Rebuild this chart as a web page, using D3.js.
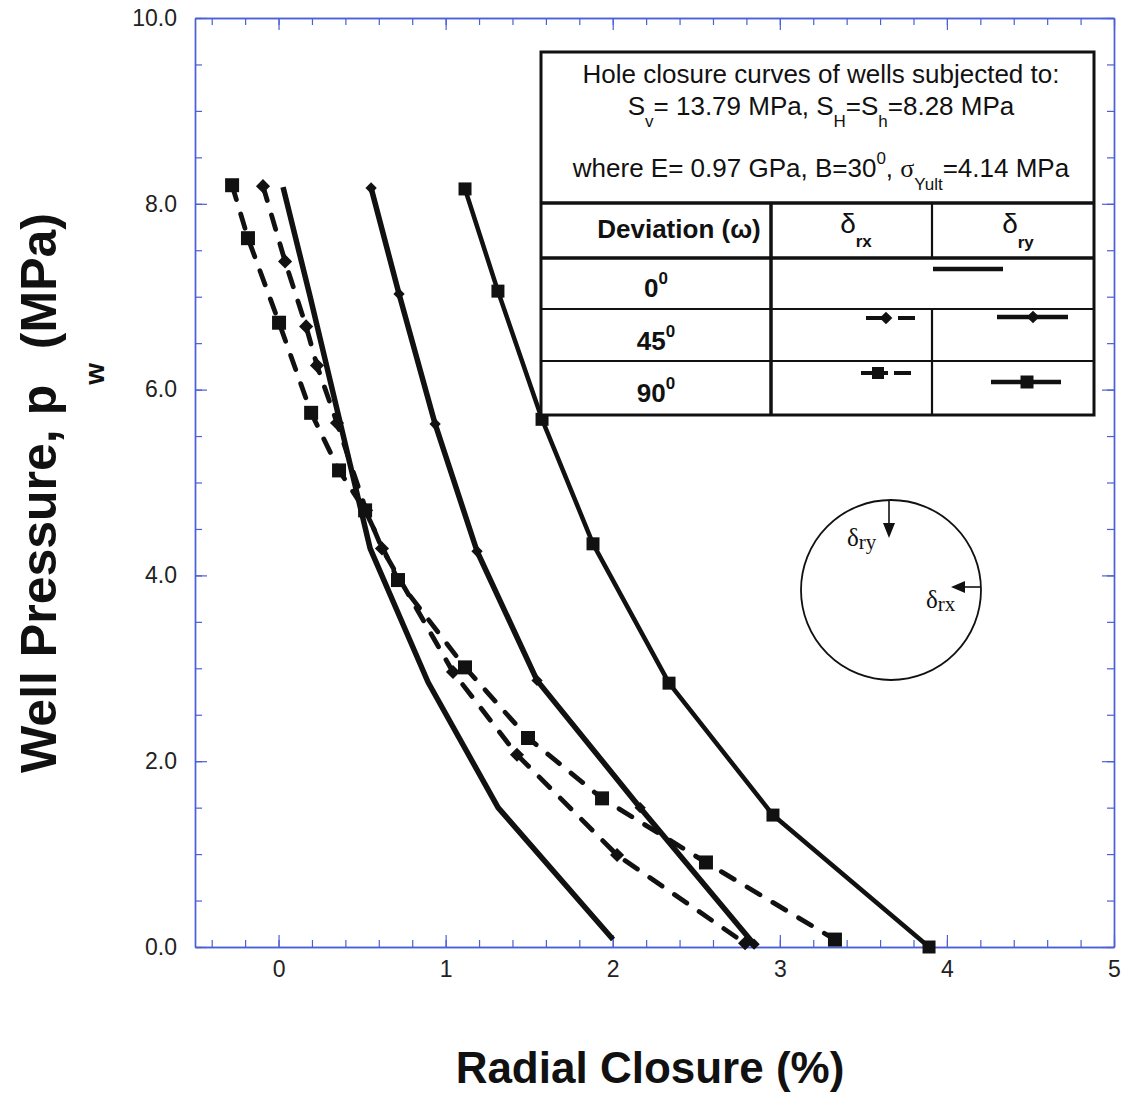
<!DOCTYPE html>
<html><head><meta charset="utf-8">
<script src="https://cdnjs.cloudflare.com/ajax/libs/d3/7.8.5/d3.min.js"></script>
<style>body{margin:0;background:#fff;} svg{display:block;}</style>
</head><body>
<svg id="chart" width="1125" height="1095"></svg>
<script>
// ---------- data ----------
const xTicks = [0, 1, 2, 3, 4, 5];
const yTicks = [0, 2, 4, 6, 8, 10];
const xLabel = "Radial Closure (%)";
const deviations = ["0", "45", "90"];

// 0 deg, delta_ry (solid, no markers)
const x0ry  = [0.027, 0.189, 0.368, 0.548, 0.895, 1.314, 2.002];
const p0ry  = [8.18, 7.00, 5.65, 4.29, 2.85, 1.50, 0.08];
// 45 deg, delta_rx (dashed, diamonds)
const x45rx = [-0.093, 0.039, 0.165, 0.230, 0.350, 0.524, 0.619, 1.044, 1.427, 2.026, 2.792];
const p45rx = [8.19, 7.38, 6.68, 6.26, 5.64, 4.70, 4.29, 2.96, 2.07, 0.99, 0.04];
// 45 deg, delta_ry (solid, diamonds)
const x45ry = [0.554, 0.721, 0.937, 1.188, 1.547, 2.164, 2.846];
const p45ry = [8.17, 7.03, 5.63, 4.26, 2.87, 1.50, 0.03];
// 90 deg, delta_rx (dashed, squares)
const x90rx = [-0.278, -0.183, 0.003, 0.195, 0.362, 0.518, 0.715, 1.116, 1.493, 1.936, 2.558, 3.330];
const p90rx = [8.20, 7.63, 6.72, 5.75, 5.13, 4.70, 3.95, 3.01, 2.25, 1.60, 0.91, 0.08];
// 90 deg, delta_ry (solid, squares)
const x90ry = [1.116, 1.313, 1.577, 1.882, 2.337, 2.959, 3.893];
const p90ry = [8.16, 7.06, 5.68, 4.34, 2.84, 1.42, 0.00];

// ---------- setup ----------
const svg = d3.select("#chart");
const FONT = "'Liberation Sans', Arial, Helvetica, sans-serif";
const BLUE = "#4b5fd6";
const x = d3.scaleLinear().domain([-0.5, 5]).range([195, 1114]);
const y = d3.scaleLinear().domain([0, 10]).range([947, 18]);

// ---------- axes ----------
const xMinor = d3.range(-0.4, 5.001, 0.2).map(v => +v.toFixed(1));
const yMinor = d3.range(0, 10.001, 0.5);

function styleAxis(g) {
  g.selectAll(".domain").attr("stroke", BLUE).attr("stroke-width", 1.4);
  g.selectAll(".tick line").attr("stroke", BLUE).attr("stroke-width", 1.2);
  g.selectAll(".tick text").attr("fill", "#222").attr("font-family", FONT).attr("font-size", 23);
}
const gB = svg.append("g").attr("transform", `translate(0,${y(0)})`);
gB.call(d3.axisBottom(x).tickValues(xMinor).tickSizeInner(-7).tickSizeOuter(0).tickFormat(""));
gB.append("g").call(d3.axisBottom(x).tickValues(xTicks).tickSizeInner(-12).tickSizeOuter(0)
  .tickPadding(14).tickFormat(d3.format("d")));
styleAxis(gB);

const gT = svg.append("g").attr("transform", `translate(0,${y(10)})`);
gT.call(d3.axisTop(x).tickValues(xMinor).tickSizeInner(-7).tickSizeOuter(0).tickFormat(""));
gT.append("g").call(d3.axisTop(x).tickValues(xTicks).tickSizeInner(-12).tickSizeOuter(0).tickFormat(""));
styleAxis(gT);

const gL = svg.append("g").attr("transform", `translate(${x(-0.5)},0)`);
gL.call(d3.axisLeft(y).tickValues(yMinor).tickSizeInner(-7).tickSizeOuter(0).tickFormat(""));
gL.append("g").call(d3.axisLeft(y).tickValues(yTicks).tickSizeInner(-12).tickSizeOuter(0)
  .tickPadding(18).tickFormat(d3.format(".1f")));
styleAxis(gL);

const gR = svg.append("g").attr("transform", `translate(${x(5)},0)`);
gR.call(d3.axisRight(y).tickValues(yMinor).tickSizeInner(-7).tickSizeOuter(0).tickFormat(""));
gR.append("g").call(d3.axisRight(y).tickValues(yTicks).tickSizeInner(-12).tickSizeOuter(0).tickFormat(""));
styleAxis(gR);

// ---------- axis titles ----------
svg.append("text").attr("x", 650).attr("y", 1083).attr("text-anchor", "middle")
  .attr("font-family", FONT).attr("font-weight", "bold").attr("font-size", 44).attr("fill", "#111")
  .text(xLabel);

const yt = svg.append("text").attr("transform", "translate(56,493) rotate(-90)")
  .attr("text-anchor", "middle").attr("font-family", FONT).attr("font-weight", "bold")
  .attr("font-size", 50).attr("fill", "#111");
yt.append("tspan").text("Well Pressure, p");
yt.append("tspan").attr("font-size", 28).attr("dy", 48).text("w");
yt.append("tspan").attr("dy", -48).text(" (MPa)");

// ---------- curves ----------
const line = d3.line().x(d => x(d[0])).y(d => y(d[1]));
const zip = (a, b) => a.map((v, i) => [v, b[i]]);
const plot = svg.append("g");

function drawSeries(xs, ps, opts) {
  const pts = zip(xs, ps);
  plot.append("path").attr("d", line(pts)).attr("fill", "none").attr("stroke", "#111")
    .attr("stroke-width", opts.w).attr("stroke-linejoin", "round")
    .attr("stroke-linecap", opts.dash ? "round" : "butt")
    .attr("stroke-dasharray", opts.dash || null);
  if (opts.marker) {
    const sym = d3.symbol().type(d3.symbolSquare).size(opts.size * opts.size);
    plot.selectAll(null).data(pts).enter().append("path")
      .attr("d", sym)
      .attr("transform", d => `translate(${x(d[0])},${y(d[1])})` + (opts.marker === "diamond" ? " rotate(45)" : ""))
      .attr("fill", "#111");
  }
}
drawSeries(x0ry, p0ry, { w: 5.5 });
drawSeries(x45ry, p45ry, { w: 5.5, marker: "diamond", size: 8 });
drawSeries(x90ry, p90ry, { w: 4.5, marker: "square", size: 13 });
drawSeries(x45rx, p45rx, { w: 4.8, dash: "15,15", marker: "diamond", size: 10 });
drawSeries(x90rx, p90rx, { w: 4.8, dash: "15,15", marker: "square", size: 14 });

// ---------- legend table ----------
const lg = svg.append("g");
const L = 541, R = 1094, T = 52, B = 415, C1 = 771, C2 = 932;
const hY = 203, r0 = 258, r1 = 309, r2 = 361;
lg.append("rect").attr("x", L).attr("y", T).attr("width", R - L).attr("height", B - T)
  .attr("fill", "#fff").attr("stroke", "#111").attr("stroke-width", 3);
function hl(yy, x1, x2, w) { lg.append("line").attr("x1", x1).attr("x2", x2).attr("y1", yy).attr("y2", yy).attr("stroke", "#111").attr("stroke-width", w); }
function vl(xx, y1, y2, w) { lg.append("line").attr("x1", xx).attr("x2", xx).attr("y1", y1).attr("y2", y2).attr("stroke", "#111").attr("stroke-width", w); }
hl(hY, L, R, 3.5); hl(r0, L, R, 3.5); hl(r1, L, R, 2.2); hl(r2, L, R, 2.2);
vl(C1, hY, B, 3.5); vl(C2, hY, r0, 2.2); vl(C2, r1, B, 2.2);

function rich(parent, xx, yy, parts, base, weight, anchor) {
  const t = parent.append("text").attr("x", xx).attr("y", yy).attr("text-anchor", anchor || "middle")
    .attr("font-family", FONT).attr("font-size", base).attr("font-weight", weight || "normal").attr("fill", "#111");
  let shift = 0;
  parts.forEach(p => {
    const [txt, kind, fs, off, fam, fw] = p;
    const target = kind === "sub" ? off : kind === "sup" ? -off : 0;
    const s = t.append("tspan").attr("dy", target - shift).text(txt);
    shift = target;
    if (fs) s.attr("font-size", fs);
    if (fam) s.attr("font-family", fam);
    if (fw) s.attr("font-weight", fw);
  });
  return t;
}
rich(lg, 821, 83, [["Hole closure curves of wells subjected to:"]], 26);
rich(lg, 821, 115, [["S"], ["v", "sub", 17, 12], ["= 13.79 MPa, S"], ["H", "sub", 17, 12], ["=S"], ["h", "sub", 17, 12], ["=8.28 MPa"]], 26);
rich(lg, 821, 177, [["where E= 0.97 GPa, B=30"], ["0", "sup", 17, 13], [", "], ["σ", null, 26, 0, "'Liberation Serif', serif"], ["Yult", "sub", 17, 13], ["=4.14 MPa"]], 26);
rich(lg, 679, 238, [["Deviation (ω)"]], 26, "bold");
rich(lg, 856, 233, [["δ", null, 28, 0, null, "normal"], ["rx", "sub", 17, 14, null, "bold"]], 28);
rich(lg, 1018, 233, [["δ", null, 28, 0, null, "normal"], ["ry", "sub", 17, 15, null, "bold"]], 28);
const rowBase = [297, 350, 402];
deviations.forEach((d, i) => rich(lg, 656, rowBase[i], [[d], ["0", "sup", 17, 13]], 26, "bold"));

function seg(x1, x2, yy, w) { lg.append("line").attr("x1", x1).attr("x2", x2).attr("y1", yy).attr("y2", yy).attr("stroke", "#111").attr("stroke-width", w); }
function mark(xx, yy, kind, s) {
  lg.append("path").attr("d", d3.symbol().type(d3.symbolSquare).size(s * s))
    .attr("transform", `translate(${xx},${yy})` + (kind === "diamond" ? " rotate(45)" : "")).attr("fill", "#111");
}
seg(933, 1003, 269, 4.5);
seg(866, 890, 318, 4); seg(898, 915, 318, 4); mark(886, 318, "diamond", 9);
seg(997, 1068, 317, 4.5); mark(1033, 317, "diamond", 9);
seg(861, 888, 373, 4); seg(894, 911, 373, 4); mark(878, 373, "square", 12);
seg(991, 1061, 382, 4.5); mark(1027, 382, "square", 13);

// ---------- hole diagram ----------
const dg = svg.append("g");
const SERIF = "'Liberation Serif', 'Times New Roman', serif";
dg.append("circle").attr("cx", 891).attr("cy", 590).attr("r", 90).attr("fill", "none")
  .attr("stroke", "#111").attr("stroke-width", 1.8);
dg.append("line").attr("x1", 889).attr("x2", 889).attr("y1", 500).attr("y2", 526).attr("stroke", "#111").attr("stroke-width", 1.6);
dg.append("path").attr("d", "M883,523 L895,523 L889,538 Z").attr("fill", "#111");
dg.append("line").attr("x1", 981).attr("x2", 962).attr("y1", 587).attr("y2", 587).attr("stroke", "#111").attr("stroke-width", 1.6);
dg.append("path").attr("d", "M965,581 L965,593 L951,587 Z").attr("fill", "#111");
const t1 = dg.append("text").attr("x", 847).attr("y", 546).attr("font-family", SERIF).attr("font-size", 25).attr("fill", "#111");
t1.append("tspan").text("δ"); t1.append("tspan").attr("font-size", 21).attr("dy", 3).text("ry");
const t2 = dg.append("text").attr("x", 926).attr("y", 608).attr("font-family", SERIF).attr("font-size", 25).attr("fill", "#111");
t2.append("tspan").text("δ"); t2.append("tspan").attr("font-size", 21).attr("dy", 3).text("rx");
</script>
</body></html>
